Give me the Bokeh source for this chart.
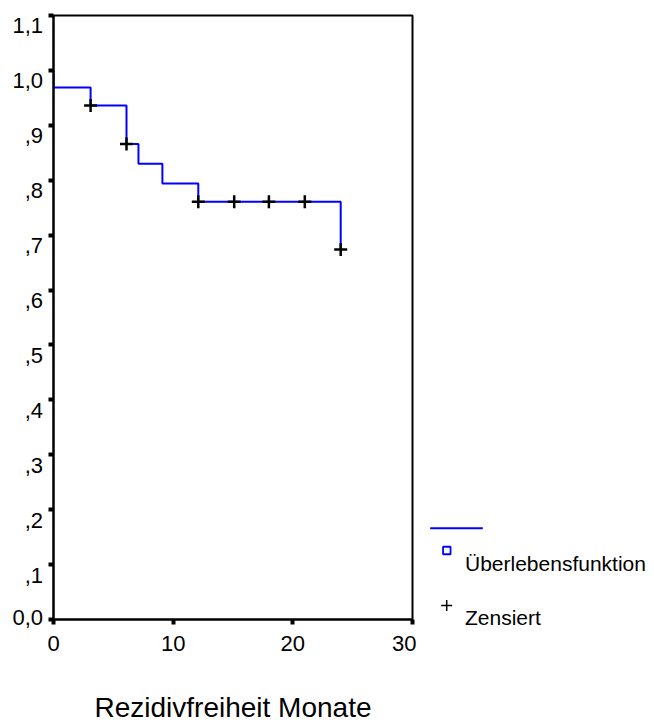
from bokeh.plotting import figure
from bokeh.models import Range1d, FixedTicker, CustomJSTickFormatter, ColumnDataSource
from bokeh.layouts import row
from bokeh.core.properties import value
from bokeh.embed import file_html
from bokeh.resources import INLINE

# ---- data (Kaplan-Meier curve) ----
time_points = [0.0, 0.0, 3.1, 6.1, 7.1, 9.1, 12.1, 24.0]
survival = [1.000, 0.969, 0.936, 0.866, 0.830, 0.794, 0.761, 0.674]

censored_time = [3.1, 6.1, 12.1, 15.1, 18.0, 21.0, 24.0]
censored_surv = [0.936, 0.866, 0.761, 0.761, 0.761, 0.761, 0.674]

x_ticks = [0, 10, 20, 30]
x_tick_labels = ["0", "10", "20", "30"]
y_ticks = [0.0, 0.1, 0.2, 0.3, 0.4, 0.5, 0.6, 0.7, 0.8, 0.9, 1.0, 1.1]
y_tick_labels = ["0,0", ",1", ",2", ",3", ",4", ",5", ",6", ",7", ",8", ",9", "1,0", "1,1"]

x_title = "Rezidivfreiheit Monate"
legend_labels = ["Überlebensfunktion", "Zensiert"]

FONT = "Liberation Sans"
BLUE = "#0000FF"

# ---- geometry (pixels, relative to the top-left of the layout) ----
TOTAL_W, TOTAL_H = 654, 725
FRAME_TOP = 15
FRAME_H = 605
Y_MAX = 1.1
PX_PER_UNIT = FRAME_H / Y_MAX
YLAB_W = 45
PLOT_W = 371
LEG_W = TOTAL_W - YLAB_W - PLOT_W


def blank_panel(width, height, x_range, y_range):
    f = figure(width=width, height=height, x_range=x_range, y_range=y_range,
               output_backend="svg", toolbar_location=None, min_border=0,
               x_axis_location=None, y_axis_location=None, frame_align=False)
    f.outline_line_color = None
    f.grid.visible = False
    f.border_fill_color = "white"
    f.background_fill_color = "white"
    return f


# ---- main plot ----
p = figure(width=PLOT_W, height=TOTAL_H, x_range=Range1d(0, 30), y_range=Range1d(0, Y_MAX),
           output_backend="svg", toolbar_location=None, frame_align=False,
           min_border_left=8, min_border_right=4, min_border_top=FRAME_TOP,
           min_border_bottom=TOTAL_H - FRAME_TOP - FRAME_H)
p.grid.visible = False
p.outline_line_color = "black"
p.outline_line_width = 2
p.outline_line_alpha = 1.0
p.background_fill_color = "white"
p.border_fill_color = "white"

for ax in (p.xaxis[0], p.yaxis[0]):
    ax.axis_line_color = "black"
    ax.axis_line_width = 2
    ax.major_tick_in = 0
    ax.major_tick_out = 5
    ax.major_tick_line_width = 4
    ax.major_tick_line_color = "black"
    ax.minor_tick_line_color = None
    ax.major_label_text_font = FONT
    ax.major_label_text_font_size = "22px"
    ax.major_label_text_color = "black"

xax = p.xaxis[0]
xax.ticker = FixedTicker(ticks=x_ticks)
xax.major_label_overrides = dict(zip(x_ticks, x_tick_labels))
xax.major_label_standoff = 11
xax.axis_label = x_title
xax.axis_label_text_font = FONT
xax.axis_label_text_font_size = "28px"
xax.axis_label_text_font_style = "normal"
xax.axis_label_text_color = "black"
xax.axis_label_standoff = 38

# y tick labels are drawn in the narrow panel on the left (they sit a little
# below their ticks in the reference), so the axis itself carries only ticks
p.yaxis[0].ticker = FixedTicker(ticks=y_ticks)
p.yaxis[0].formatter = CustomJSTickFormatter(code="return '';")
p.yaxis[0].major_label_standoff = 0
p.yaxis[0].major_label_text_font_size = "0px"

p.step(x=time_points, y=survival, mode="after", line_color=BLUE, line_width=2)
p.scatter(x=censored_time, y=censored_surv, marker="cross", size=13,
          line_color="black", line_width=2.5)

# ---- y tick label panel (same y scale as the plot frame) ----
ylab = blank_panel(YLAB_W, TOTAL_H, Range1d(0, YLAB_W),
                   Range1d(Y_MAX - (TOTAL_H - FRAME_TOP) / PX_PER_UNIT,
                           Y_MAX + FRAME_TOP / PX_PER_UNIT))
ylab_src = ColumnDataSource(dict(
    x=[42.5] * len(y_ticks), y=y_ticks, text=y_tick_labels,
    yoff=[-3 if t == 0 else 10 for t in y_ticks]))
ylab.text(x="x", y="y", text="text", y_offset="yoff", source=ylab_src,
          text_font=value(FONT), text_font_size="22px", text_color="black",
          text_align="right", text_baseline="alphabetic")

# ---- legend panel (to the right of the plot) ----
leg = blank_panel(LEG_W, TOTAL_H, Range1d(0, LEG_W), Range1d(TOTAL_H, 0))
leg.line(x=[13.7, 66.3], y=[527.7, 527.7], line_color=BLUE, line_width=2)
leg.scatter(x=[30.3], y=[550], marker="square", size=7.5, fill_color="white",
            line_color=BLUE, line_width=1.8)
leg.scatter(x=[30.2], y=[605], marker="cross", size=11, line_color="black", line_width=1.5)
leg.text(x=[48.5, 48.5], y=[563, 616.7], text=legend_labels,
         text_font=value(FONT), text_font_size="21px", text_color="black",
         text_align="left", text_baseline="alphabetic")

layout = row(ylab, p, leg)
open("out.html", "w").write(file_html(layout, INLINE))
